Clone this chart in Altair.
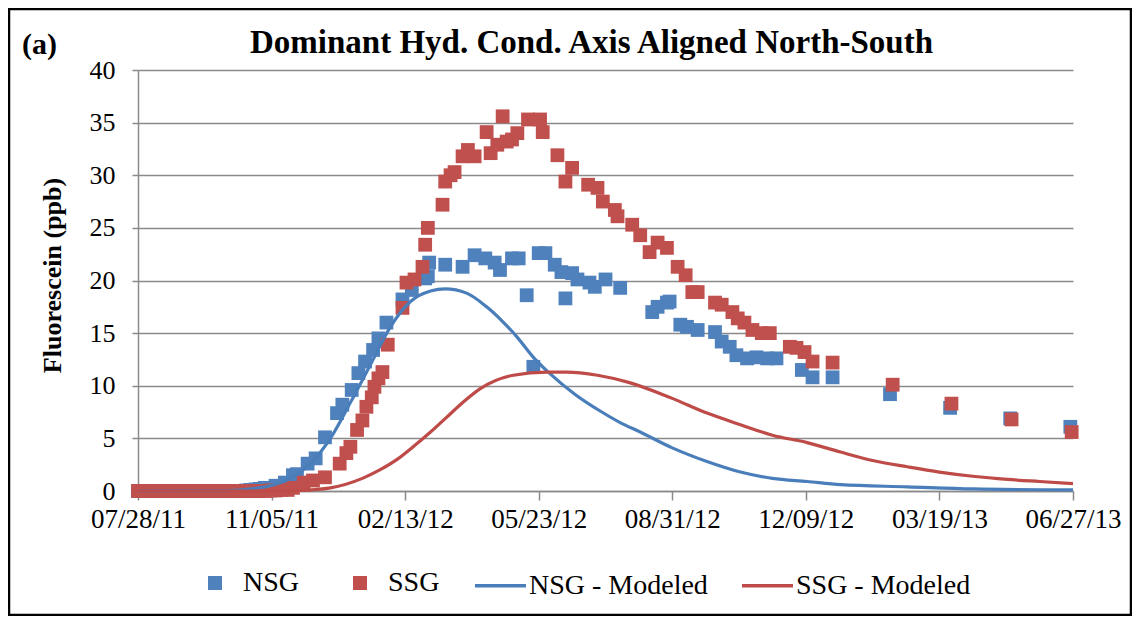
import altair as alt
import pandas as pd

# ---------------- data (days since 07/28/2011, fluorescein ppb) ----------------
nsg_days = [0, 3, 6, 9, 12, 15, 18, 21, 25, 28, 32, 35, 39, 42, 46, 49, 53, 56, 60, 63,
            67, 70, 74, 77, 81, 84, 88, 91,
            95, 103, 110, 116, 119, 127, 133, 140, 149, 153,
            160, 165, 170, 176, 180, 186, 198, 205, 215, 217,
            218, 230, 243, 252, 260, 267, 271, 280, 285, 291,
            296, 300, 305, 312, 317, 320, 325, 329, 338, 342,
            350, 361, 385, 389, 396, 398, 406, 411, 419, 432,
            437, 443, 448, 456, 463, 471, 478, 497, 505, 520,
            563, 608, 653, 698]
nsg_ppb = [0, 0, 0, 0, 0, 0, 0, 0, 0, 0, 0, 0, 0, 0, 0, 0, 0, 0, 0, 0,
           0, 0, 0, 0, 0.05, 0.1, 0.15, 0.2,
           0.3, 0.5, 0.8, 1.5, 1.6, 2.6, 3.1, 5.1, 7.4, 8.2,
           9.6, 11.2, 12.3, 13.4, 14.5, 16.0, 18.2, 19.1, 20.2, 20.4,
           21.7, 21.5, 21.3, 22.4, 22.1, 21.7, 21.0, 22.1, 22.1, 18.6,
           11.8, 22.6, 22.6, 21.5, 20.8, 18.3, 20.7, 20.1, 19.8, 19.4,
           20.1, 19.3, 17.0, 17.5, 17.9, 18.0, 15.8, 15.6, 15.3, 15.1,
           14.2, 13.7, 12.9, 12.6, 12.7, 12.6, 12.6, 11.5, 10.8, 10.8,
           9.2, 7.9, 6.9, 6.1]

ssg_days = [0, 3, 6, 9, 12, 15, 18, 21, 25, 28, 32, 35, 39, 42, 46, 49, 53, 56, 60, 63,
            67, 70, 74, 77, 81, 84, 88, 91, 95, 99, 103, 107, 112,
            116, 124, 131, 140, 151, 156, 159, 164, 168, 171,
            175, 177, 180, 183, 187, 198, 201, 207, 213, 215,
            217, 228, 230, 234, 237, 243, 247, 252, 261, 264,
            269, 273, 276, 280, 284, 292, 301, 303, 314, 320,
            325, 337, 344, 348, 357, 359, 370, 376, 383, 389,
            396, 404, 410, 415, 419, 432, 437, 445, 449, 454,
            460, 467, 473, 488, 493, 499, 505, 520, 565, 609,
            654, 699]
ssg_ppb = [0, 0, 0, 0, 0, 0, 0, 0, 0, 0, 0, 0, 0, 0, 0, 0, 0, 0, 0, 0,
           0, 0, 0, 0, 0, 0, 0, 0, 0, 0.05, 0.05, 0.1, 0.1,
           0.3, 0.8, 1.0, 1.3, 2.6, 3.6, 4.2, 5.8, 6.7, 8.0,
           8.9, 9.9, 10.7, 11.3, 13.9, 17.4, 19.8, 20.1, 21.3, 23.4,
           25.0, 27.2, 29.4, 30.0, 30.3, 31.8, 32.4, 31.8, 34.1, 32.1,
           32.9, 35.6, 33.2, 33.4, 34.0, 35.3, 35.3, 34.1, 31.9, 29.4,
           30.7, 29.1, 28.8, 27.5, 26.7, 26.1, 25.3, 24.3, 22.7, 23.6,
           23.1, 21.3, 20.5, 18.9, 18.9, 17.9, 17.7, 17.0, 16.4, 16.0,
           15.3, 15.0, 15.0, 13.7, 13.6, 13.2, 12.3, 12.2, 10.1, 8.3,
           6.8, 5.6]

nsg_model_days = [0, 60, 69, 84, 99, 114, 129, 144, 159, 174, 189, 204, 219, 230, 246,
                  261, 273, 284, 296, 308, 327, 346, 361, 376, 400, 426, 451, 475, 501,
                  526, 576, 625, 700]
nsg_model_ppb = [0, 0.01, 0.03, 0.2, 0.5, 1.2, 2.6, 5.0, 8.4, 12.0, 15.6, 18.0, 19.0, 19.2, 18.8,
                 17.5, 16.1, 14.6, 12.7, 11.2, 9.2, 7.6, 6.5, 5.6, 4.1, 2.8, 1.8, 1.2, 0.9,
                 0.6, 0.4, 0.2, 0.1]

ssg_model_days = [0, 100, 121, 144, 168, 181, 194, 206, 219, 231, 244, 256, 281, 306, 321, 344,
                  368, 400, 426, 451, 475, 501, 526, 550, 576, 600, 625, 651, 675, 700]
ssg_model_ppb = [0, 0.0, 0.05, 0.3, 1.2, 2.0, 3.0, 4.2, 5.6, 7.0, 8.5, 9.7, 11.0, 11.3, 11.3, 11.0,
                 10.3, 8.8, 7.4, 6.3, 5.3, 4.6, 3.7, 2.9, 2.3, 1.8, 1.4, 1.1, 0.9, 0.7]

point_series = ["NSG", "SSG"]
point_colors = ["#4F81BD", "#C0504D"]
line_series = ["NSG - Modeled", "SSG - Modeled"]
line_colors = ["#4A7EBB", "#BE4B48"]

x_tick_days = [0, 100, 200, 300, 400, 500, 600, 700]
y_ticks = [0, 5, 10, 15, 20, 25, 30, 35, 40]

TITLE = "Dominant Hyd. Cond. Axis Aligned North-South"
PANEL = "(a)"
Y_TITLE = "Fluorescein (ppb)"

# ---------------- tables ----------------
pts = pd.concat([
    pd.DataFrame({"day": nsg_days, "ppb": nsg_ppb, "series": "NSG"}),
    pd.DataFrame({"day": ssg_days, "ppb": ssg_ppb, "series": "SSG"}),
], ignore_index=True)
lns = pd.concat([
    pd.DataFrame({"day": nsg_model_days, "ppb": nsg_model_ppb, "series": "NSG - Modeled"}),
    pd.DataFrame({"day": ssg_model_days, "ppb": ssg_model_ppb, "series": "SSG - Modeled"}),
], ignore_index=True)

FONT = "Times New Roman, Liberation Serif, serif"
W, H = 935, 421

x_enc = alt.X("day:Q",
              scale=alt.Scale(domain=[0, 700], nice=False, zero=False),
              axis=alt.Axis(values=x_tick_days, title=None, grid=False,
                            labelExpr="timeFormat(datetime(2011, 6, 28 + datum.value), '%m/%d/%y')",
                            tickSize=9, labelPadding=6, labelFontSize=27,
                            labelFlush=False, labelOverlap=False))
y_enc = alt.Y("ppb:Q",
              scale=alt.Scale(domain=[0, 40], nice=False),
              axis=alt.Axis(values=y_ticks, title=Y_TITLE, grid=True,
                            tickSize=6, labelPadding=17, labelFontSize=26,
                            titleFontSize=26, titleFontWeight="bold",
                            titleX=-86, titleY=205, titleAngle=270,
                            titleAlign="center", titleBaseline="middle"))

common_legend = dict(orient="none", direction="horizontal", title=None,
                     labelFont=FONT, labelFontSize=28, labelColor="black",
                     labelLimit=400, padding=0, columns=2)

sq_legend = alt.Legend(legendX=63, legendY=499, symbolSize=196, symbolStrokeWidth=0,
                       labelOffset=14, columnPadding=46, symbolType="square",
                       **common_legend)
ln_legend = alt.Legend(legendX=335, legendY=488, symbolSize=2601, symbolType="stroke",
                       symbolStrokeWidth=3.5, labelOffset=1, columnPadding=27,
                       **common_legend)

points = alt.Chart(pts).mark_point(filled=True, strokeWidth=0, opacity=1, size=190,
                                   shape="square").encode(
    x=x_enc, y=y_enc,
    fill=alt.Fill("series:N", scale=alt.Scale(domain=point_series, range=point_colors),
                  legend=sq_legend),
)

lines = alt.Chart(lns).mark_line(strokeWidth=3.2, interpolate="monotone").encode(
    x=x_enc, y=y_enc,
    stroke=alt.Stroke("series:N", scale=alt.Scale(domain=line_series, range=line_colors),
                      legend=ln_legend),
)

one = pd.DataFrame({"t": [0]})
frame = alt.Chart(one).mark_rect(fillOpacity=0, stroke="black", strokeWidth=2.5).encode(
    x=alt.value(-129), y=alt.value(-61), x2=alt.value(993), y2=alt.value(545))

title_txt = alt.Chart(pd.DataFrame({"t": [TITLE]})).mark_text(
    font=FONT, fontSize=33, fontWeight="bold", align="center", baseline="alphabetic",
    color="black").encode(text="t:N", x=alt.value(453.5), y=alt.value(-17))

panel_txt = alt.Chart(pd.DataFrame({"t": [PANEL]})).mark_text(
    font=FONT, fontSize=30, fontWeight="bold", align="left", baseline="alphabetic",
    color="black").encode(text="t:N", x=alt.value(-116), y=alt.value(-16))

chart = alt.layer(frame, points, lines, title_txt, panel_txt).properties(
    width=W, height=H,
    autosize=alt.AutoSizeParams(type="none"),
    padding={"left": 130, "top": 62, "right": 59, "bottom": 125},
    background="white",
).resolve_scale(stroke="independent").configure_view(stroke=None).configure_axis(
    labelFont=FONT, titleFont=FONT, labelColor="black", titleColor="black",
    domainColor="#8a8a8a", domainWidth=1.5, tickColor="#8a8a8a", tickWidth=1.5,
    gridColor="#8a8a8a", gridWidth=1.5,
)

chart.save("out.html", embed_options={"renderer": "svg", "actions": False})
